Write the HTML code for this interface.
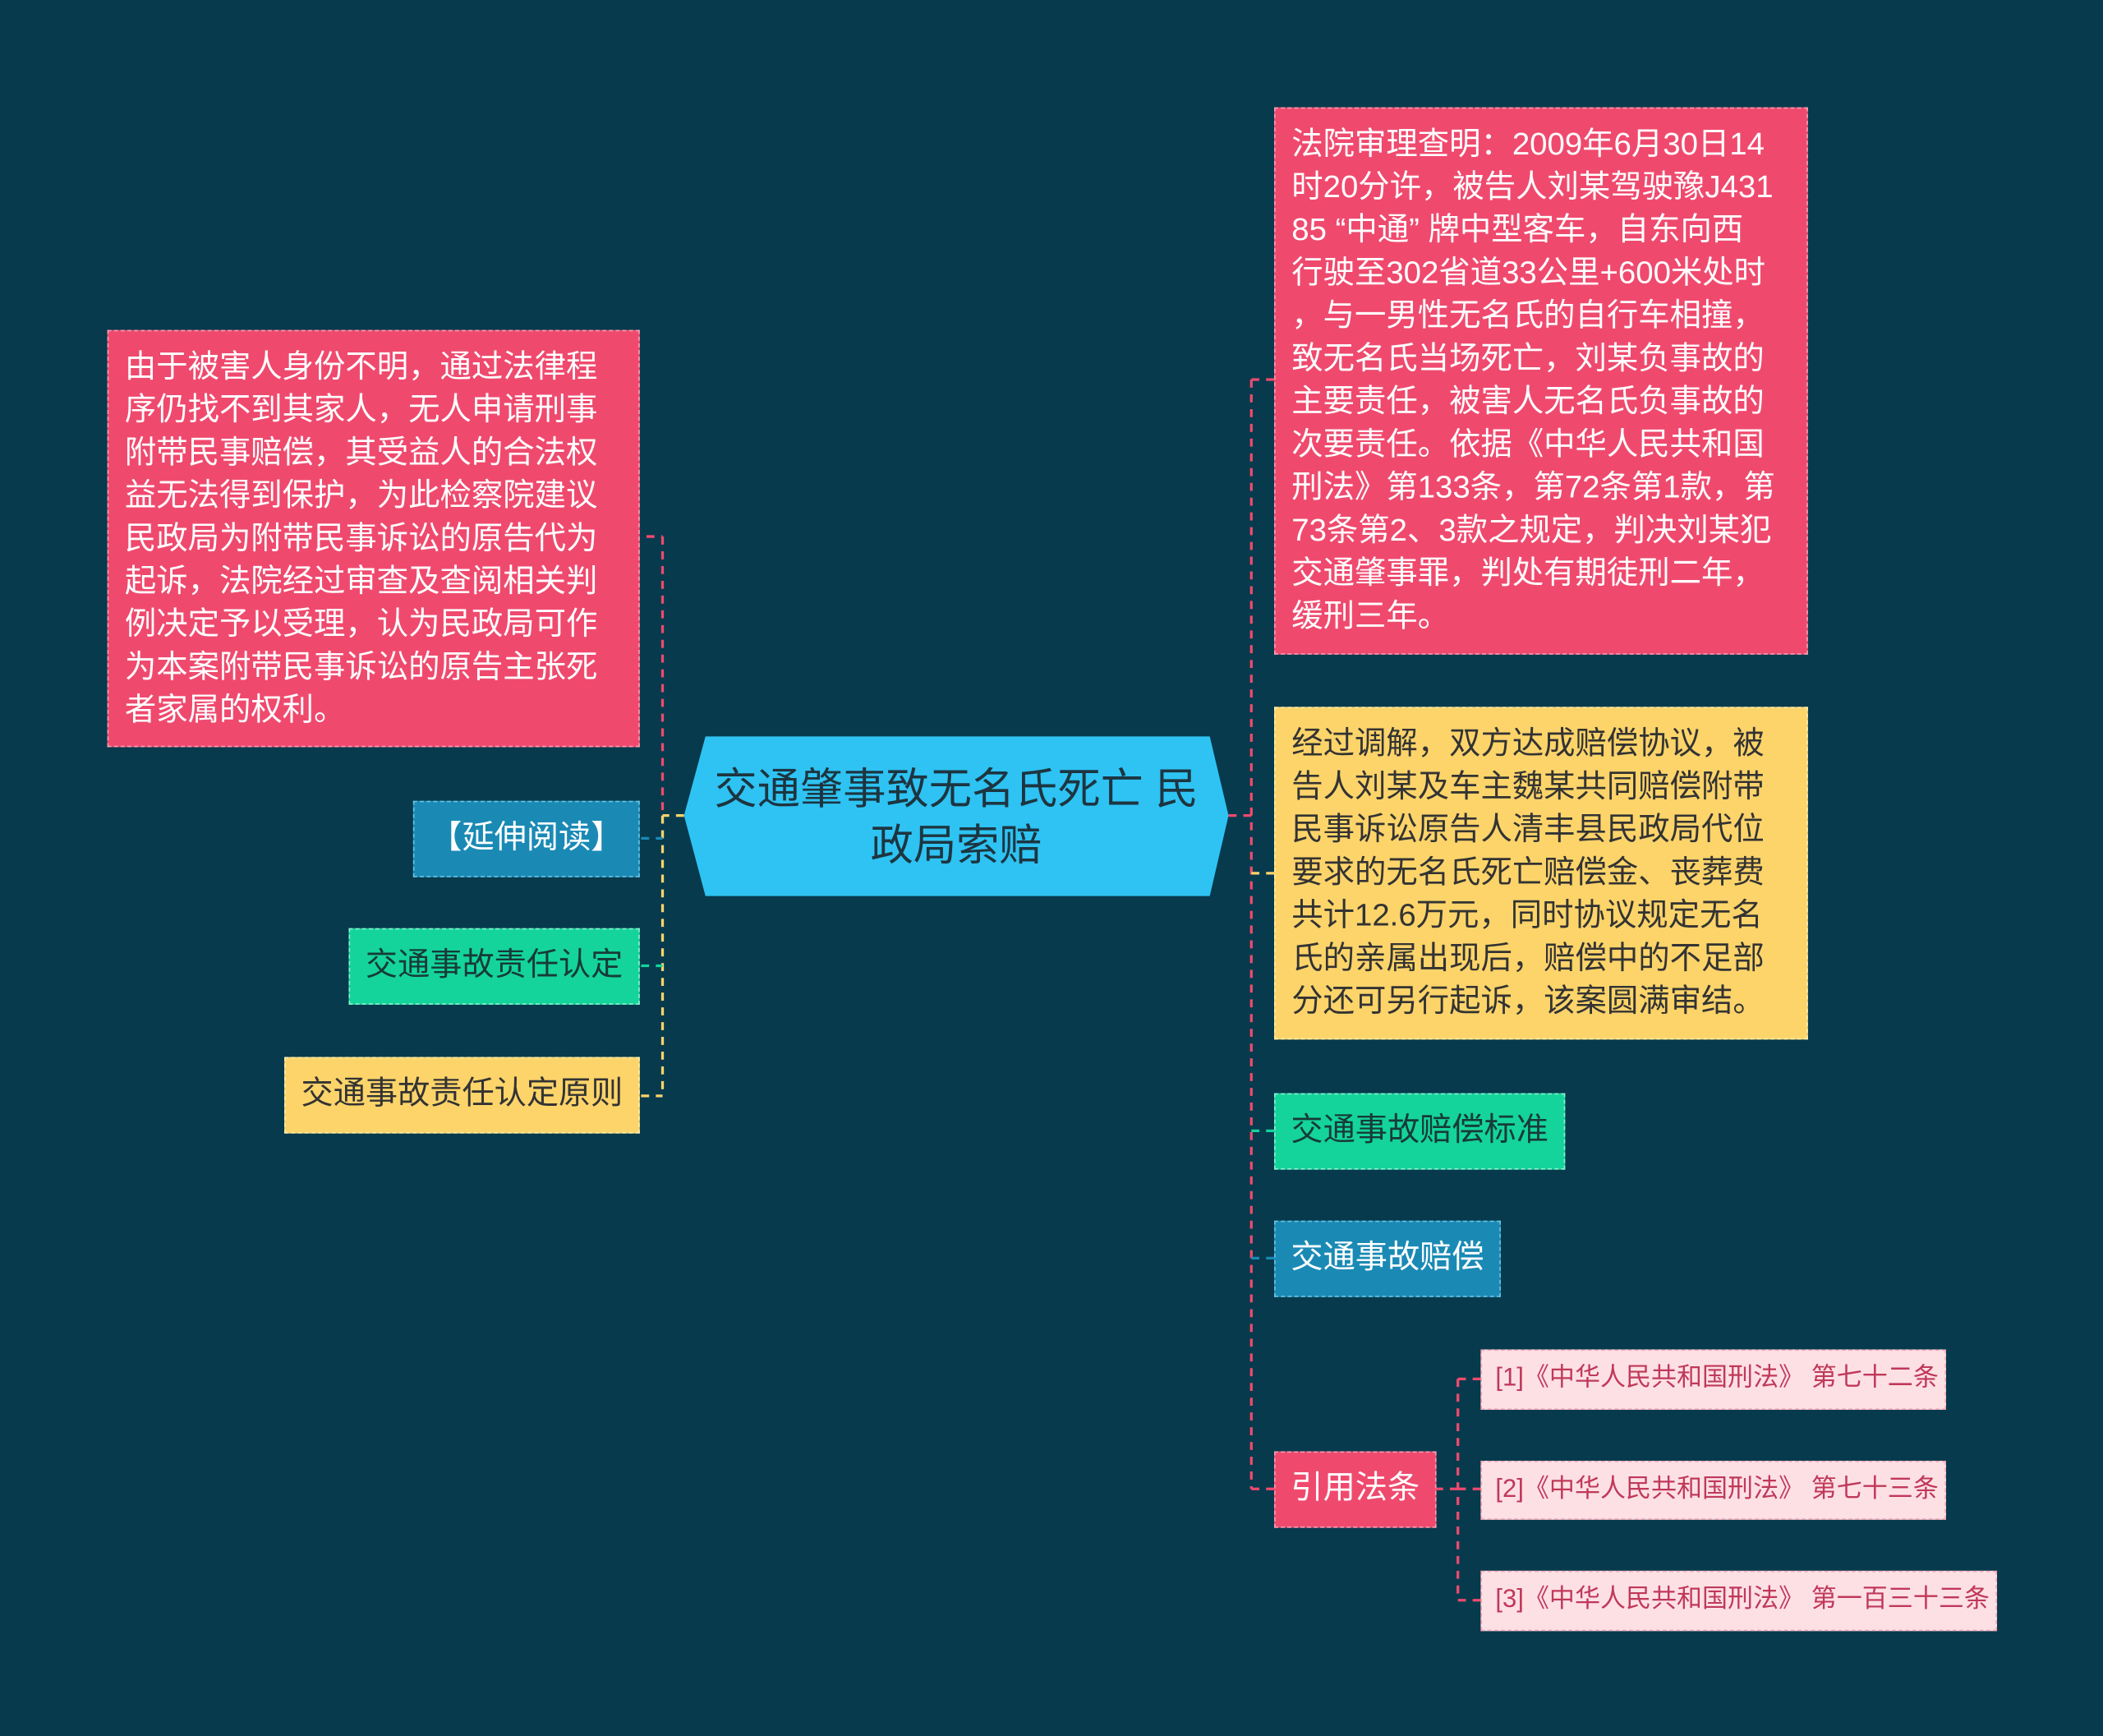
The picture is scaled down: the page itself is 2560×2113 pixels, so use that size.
<!DOCTYPE html>
<html><head><meta charset="utf-8"><style>
html,body{margin:0;padding:0;background:#073a4d;}
body{width:2560px;height:2113px;overflow:hidden;position:relative;}
#w{position:absolute;left:0;top:0;width:1568px;height:1294px;transform:scale(1.632653);transform-origin:0 0;font-family:"Liberation Sans","Noto Sans CJK SC",sans-serif;}
.n{position:absolute;box-sizing:border-box;white-space:nowrap;}
.big{font-size:23.5px;line-height:32px;color:#fff;padding:10px 12px;}
.pk{background:#ef4a6e;border:1.5px dashed #f7a0b4;}
.ye{background:#fcd46a;border:1.5px dashed #fff0b0;color:#333;}
.gr{background:#14d49b;border:1.5px dashed #8ff0cf;color:#173a3a;}
.bl{background:#1a8ab5;border:1.5px dashed #6cc2e2;color:#fff;}
.sm{font-size:24px;line-height:54px;text-align:center;}
.law{background:#fde0e4;border:1.5px dashed #f5a7b7;color:#c0395a;font-size:19px;line-height:42px;padding-left:10px;}
</style></head><body><div id="w">
<svg width="1568" height="1294" style="position:absolute;left:0;top:0">
<g fill="none" stroke-width="2" stroke-dasharray="6,5">
<path d="M510 608H494" stroke="#fcd46a"/>
<path d="M494 400V608" stroke="#ef4a6e"/>
<path d="M494 608V625" stroke="#1a8ab5"/>
<path d="M494 608V817" stroke="#fcd46a"/>
<path d="M482 400H494" stroke="#ef4a6e"/>
<path d="M478 625H494" stroke="#1a8ab5"/>
<path d="M478 720H494" stroke="#14d49b"/>
<path d="M478 817H494" stroke="#fcd46a"/>
<path d="M916 608H933M933 283V1110M933 283H950M933 1110H950" stroke="#ef4a6e"/>
<path d="M933 651H950" stroke="#fcd46a"/>
<path d="M933 843H950" stroke="#14d49b"/>
<path d="M933 938H950" stroke="#1a8ab5"/>
<path d="M1070 1110H1087M1087 1028V1193M1087 1028H1104M1087 1110H1104M1087 1193H1104" stroke="#ef4a6e"/>
</g>
<polygon points="526,549 902,549 916,608 902,668 526,668 510,608" fill="#2ec3f3"/>
<text x="713" y="599" font-size="32" text-anchor="middle" fill="#1d3540" font-family="Liberation Sans, Noto Sans CJK SC, sans-serif">交通肇事致无名氏死亡 民</text>
<text x="713" y="641" font-size="32" text-anchor="middle" fill="#1d3540" font-family="Liberation Sans, Noto Sans CJK SC, sans-serif">政局索赔</text>
</svg>
<div class="n big pk" style="left:80px;top:246px;width:397px;height:311px">由于被害人身份不明，通过法律程<br>序仍找不到其家人，无人申请刑事<br>附带民事赔偿，其受益人的合法权<br>益无法得到保护，为此检察院建议<br>民政局为附带民事诉讼的原告代为<br>起诉，法院经过审查及查阅相关判<br>例决定予以受理，认为民政局可作<br>为本案附带民事诉讼的原告主张死<br>者家属的权利。</div>
<div class="n sm bl" style="left:308px;top:597px;width:169px;height:57px">【延伸阅读】</div>
<div class="n sm gr" style="left:260px;top:692px;width:217px;height:57px">交通事故责任认定</div>
<div class="n sm ye" style="left:212px;top:788px;width:265px;height:57px">交通事故责任认定原则</div>
<div class="n big pk" style="left:950px;top:80px;width:398px;height:408px">法院审理查明：2009年6月30日14<br>时20分许，被告人刘某驾驶豫J431<br>85 “中通” 牌中型客车，自东向西<br>行驶至302省道33公里+600米处时<br>，与一男性无名氏的自行车相撞，<br>致无名氏当场死亡，刘某负事故的<br>主要责任，被害人无名氏负事故的<br>次要责任。依据《中华人民共和国<br>刑法》第133条，第72条第1款，第<br>73条第2、3款之规定，判决刘某犯<br>交通肇事罪，判处有期徒刑二年，<br>缓刑三年。</div>
<div class="n big ye" style="left:950px;top:527px;width:398px;height:248px">经过调解，双方达成赔偿协议，被<br>告人刘某及车主魏某共同赔偿附带<br>民事诉讼原告人清丰县民政局代位<br>要求的无名氏死亡赔偿金、丧葬费<br>共计12.6万元，同时协议规定无名<br>氏的亲属出现后，赔偿中的不足部<br>分还可另行起诉，该案圆满审结。</div>
<div class="n sm gr" style="left:950px;top:815px;width:217px;height:57px">交通事故赔偿标准</div>
<div class="n sm bl" style="left:950px;top:910px;width:169px;height:57px">交通事故赔偿</div>
<div class="n sm pk" style="left:950px;top:1082px;width:121px;height:57px;color:#fff">引用法条</div>
<div class="n law" style="left:1104px;top:1006px;width:347px;height:45px">[1]《中华人民共和国刑法》 第七十二条</div>
<div class="n law" style="left:1104px;top:1089px;width:347px;height:44px">[2]《中华人民共和国刑法》 第七十三条</div>
<div class="n law" style="left:1104px;top:1171px;width:385px;height:45px">[3]《中华人民共和国刑法》 第一百三十三条</div>
</div></body></html>
